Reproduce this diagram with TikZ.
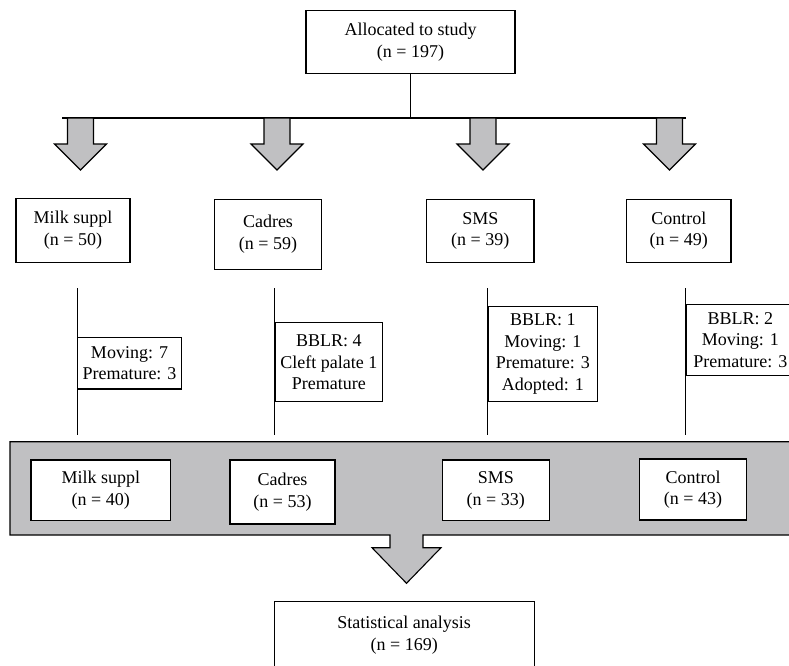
\documentclass[tikz,border=0pt]{standalone}
\usepackage{fontspec}
\setmainfont{Liberation Serif}
\definecolor{bandgray}{RGB}{192,192,194}
\tikzset{
  box/.style={draw, fill=white, align=center, inner sep=0pt},
  blockarrow/.style={draw, fill=bandgray, line join=miter},
}

\begin{document}
\begin{tikzpicture}[font=\fontsize{18}{21.5}\selectfont, x=1pt, y=-1pt, line width=1.1pt]
\useasboundingbox (0,0) rectangle (789,665);

% allocation
\node[box, minimum width=209pt, minimum height=63pt] (alloc) at (410.5,42.3) {Allocated to study\\(n = 197)};
\coordinate (split) at (410.5,118);
\coordinate (busL) at (62,118);
\coordinate (busR) at (686,118);
\draw (alloc) -- (split);
\draw (busL) -- (busR);

% arrows to groups
\foreach \ax in {80.5,277,483,669.5}
  \draw[blockarrow] (\ax-13,118) -- (\ax-13,144) -- (\ax-26,144) -- (\ax,170)
    -- (\ax+26,144) -- (\ax+13,144) -- (\ax+13,118) -- cycle;

% groups at start
\node[box, minimum width=114pt, minimum height=63.7pt] (milk) at (73,230.2) {Milk suppl\\(n = 50)};
\node[box, minimum width=107.4pt, minimum height=70pt] (cadres) at (268,234.3) {Cadres\\(n = 59)};
\node[box, minimum width=107.3pt, minimum height=62.7pt] (sms) at (480.3,230.7) {SMS\\(n = 39)};
\node[box, minimum width=104.3pt, minimum height=62.7pt] (control) at (678.8,230.7) {Control\\(n = 49)};

% follow-up lines
\coordinate (milkT) at (77.3,288);    \coordinate (milkB) at (77.3,435);
\coordinate (cadresT) at (274.7,288); \coordinate (cadresB) at (274.7,435);
\coordinate (smsT) at (487.7,288);    \coordinate (smsB) at (487.7,435);
\coordinate (controlT) at (685.7,288); \coordinate (controlB) at (685.7,435);
\draw (milkT) -- (milkB);
\draw (cadresT) -- (cadresB);
\draw (smsT) -- (smsB);
\draw (controlT) -- (controlB);

% losses
\node[box, anchor=west, minimum width=103.3pt, minimum height=51.3pt] (milkLoss) at (77.3,363.3) {Moving: 7\\Premature: 3};
\node[box, anchor=west, minimum width=107.3pt, minimum height=79pt] (cadresLoss) at (274.7,362.2) {BBLR: 4\\Cleft palate 1\\Premature};
\node[box, anchor=west, minimum width=109pt, minimum height=95pt] (smsLoss) at (487.7,354.2) {BBLR: 1\\Moving: 1\\Premature: 3\\Adopted: 1};
\node[box, anchor=west, minimum width=108pt, minimum height=70.7pt] (controlLoss) at (685.7,339.7) {BBLR: 2\\Moving: 1\\Premature: 3};

% band with arrow to analysis
\draw[blockarrow] (10,441.7) -- (795,441.7) -- (795,535) -- (423,535) -- (423,547.7)
  -- (441,547.7) -- (406.5,583.3) -- (372,547.7) -- (390,547.7) -- (390,535)
  -- (10,535) -- cycle;

% groups at end
\node[box, minimum width=139.7pt, minimum height=60.7pt] (milkEnd) at (100.8,490.3) {Milk suppl\\(n = 40)};
\node[box, minimum width=105pt, minimum height=64pt] (cadresEnd) at (282.5,492) {Cadres\\(n = 53)};
\node[box, minimum width=107pt, minimum height=60.7pt] (smsEnd) at (495.8,490.3) {SMS\\(n = 33)};
\node[box, minimum width=107.4pt, minimum height=61pt] (controlEnd) at (693,489.5) {Control\\(n = 43)};

% analysis
\node[box, minimum width=259.7pt, minimum height=66.6pt] (analysis) at (404.2,635) {Statistical analysis\\(n = 169)};

\end{tikzpicture}
\end{document}
